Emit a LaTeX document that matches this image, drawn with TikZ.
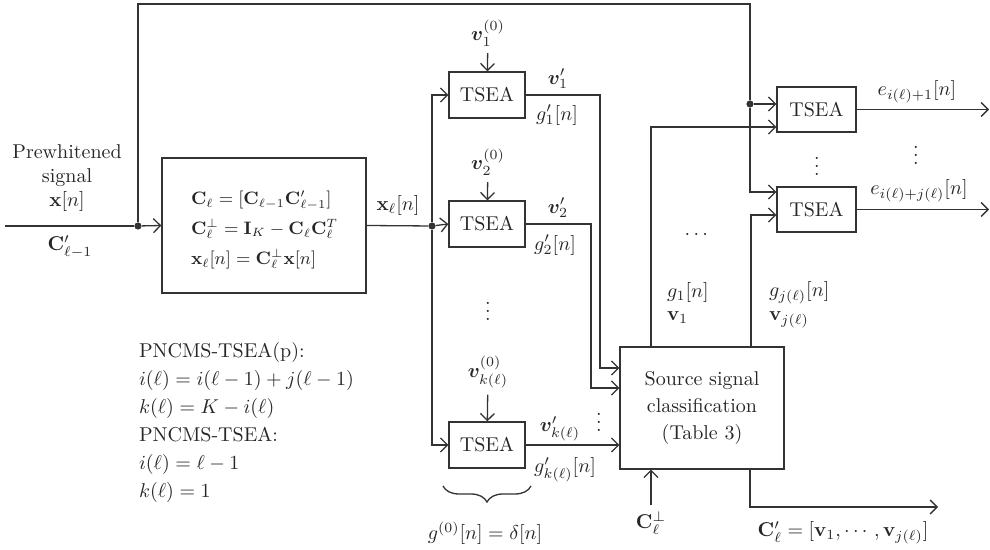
\documentclass[tikz,border=0pt]{standalone}
\usepackage{amsmath,bm}
\usetikzlibrary{arrows.meta,decorations.pathreplacing,calc}
\begin{document}
\begin{tikzpicture}[x=0.5pt,y=-0.5pt,
  every node/.style={text=black!85, font=\fontsize{10}{12}\selectfont},
  ln/.style={draw=black!80, line width=0.65pt},
  arr/.style={ln, -{Straight Barb[length=3.5pt,width=7pt]}},
  blk/.style={draw=black!80, line width=0.65pt, inner sep=0pt},
  tsea/.style={blk, minimum width=38pt, minimum height=23pt},
  vd/.style={inner sep=0pt},
  dot/.style={circle, fill=black!80, inner sep=0pt, minimum size=3.6pt}]
\useasboundingbox (0,0) rectangle (990,550);

% input side
\node[align=center] (pw) at (67,178) {Prewhitened\\signal\\$\mathbf{x}[n]$};
\node (cl1) at (70,247) {$\mathbf{C}'_{\ell-1}$};
\coordinate (in0) at (5,226);
\node[dot] (d1) at (138,226) {};
\coordinate (tl) at (138,4);
\coordinate (tr) at (750,4);

% projection block
\node[blk, minimum width=102pt, minimum height=67.5pt] (cb) at (264,225.5) {};
\node[align=left, anchor=west, font=\fontsize{9.2}{15}\selectfont] (cbt) at (184,230)
  {$\mathbf{C}_\ell = [\mathbf{C}_{\ell-1}\mathbf{C}'_{\ell-1}]$\\
   $\mathbf{C}_\ell^{\perp} = \mathbf{I}_K - \mathbf{C}_\ell\mathbf{C}_\ell^{T}$\\
   $\mathbf{x}_\ell[n] = \mathbf{C}_\ell^{\perp}\mathbf{x}[n]$};
\node (xl) at (398,206) {$\mathbf{x}_\ell[n]$};
\node[dot] (d3) at (432,226) {};

% TSEA column
\node[tsea] (T1) at (487,95) {TSEA};
\node[tsea] (T2) at (487,224) {TSEA};
\node[tsea] (Tk) at (487,445) {TSEA};
\node (v10) at (488,33) {$\bm{v}_1^{(0)}$};
\node (v20) at (488,162) {$\bm{v}_2^{(0)}$};
\node (vk0) at (488,372) {$\bm{v}_{k(\ell)}^{(0)}$};
\node[vd] (vd1) at (488,305) {$\vdots$};
\node (v1p) at (558,79) {$\bm{v}'_1$};
\node (g1p) at (557,115) {$g'_1[n]$};
\node (v2p) at (558,208) {$\bm{v}'_2$};
\node (g2p) at (555,245) {$g'_2[n]$};
\node (vkp) at (560,429) {$\bm{v}'_{k(\ell)}$};
\node (gkp) at (565,470) {$g'_{k(\ell)}[n]$};
\node[vd] (vd2) at (599,416) {$\vdots$};
\coordinate (br1) at (443,486);
\coordinate (br2) at (531,486);
\node (g0) at (485,533) {$g^{(0)}[n] = \delta[n]$};

% classification
\node[blk, minimum width=82pt, minimum height=61pt, align=center,
      font=\fontsize{10}{13.5}\selectfont] (S) at (702,408)
  {Source signal\\classification\\(Table 3)};
\node (cperp) at (651,523) {$\mathbf{C}_\ell^{\perp}$};
\node (clp) at (843,533) {$\mathbf{C}'_\ell = [\mathbf{v}_1,\cdots,\mathbf{v}_{j(\ell)}]$};
\node[anchor=west] (g1n) at (660,293) {$g_1[n]$};
\node[anchor=west] (vv1) at (660,318) {$\mathbf{v}_1$};
\node[anchor=west] (gjn) at (762,293) {$g_{j(\ell)}[n]$};
\node[anchor=west] (vvj) at (762,320) {$\mathbf{v}_{j(\ell)}$};
\node (hd) at (698,235) {$\cdots$};
\coordinate (c1) at (600,368);
\coordinate (c2) at (591,388);
\coordinate (g1c) at (651,127);
\coordinate (gjc) at (751,215);
\coordinate (oc) at (750,507);
\coordinate (oe) at (938,507);

% right TSEAs
\node[blk, minimum width=39.5pt, minimum height=22.5pt] (A) at (816.5,109.5) {TSEA};
\node[blk, minimum width=39.5pt, minimum height=22.5pt] (B) at (816.5,209.5) {TSEA};
\node[dot] (d2) at (750,104) {};
\coordinate (yb1) at (0,192);
\coordinate (rx) at (989,0);
\node[vd] (vd3) at (817,160) {$\vdots$};
\node (e1) at (917,92) {$e_{i(\ell)+1}[n]$};
\node (ej) at (919,191) {$e_{i(\ell)+j(\ell)}[n]$};
\node[vd] (vd4) at (916,149) {$\vdots$};

% text block
\node[align=left, anchor=north west, font=\fontsize{10}{14}\selectfont] (pn) at (132,335)
  {PNCMS-TSEA(p):\\
   $i(\ell) = i(\ell-1) + j(\ell-1)$\\
   $k(\ell) = K - i(\ell)$\\
   PNCMS-TSEA:\\
   $i(\ell) = \ell - 1$\\
   $k(\ell) = 1$};

% connectors
\draw[ln] (in0) -- (d1);
\draw[arr] (d1) -- (cb.west);
\draw[ln] (d1) -- (tl) -- (tr) -- (d2);
\draw[arr] (d2) -- (d2 -| A.west);
\draw[arr] (d2) |- (B.west |- yb1);
\draw[ln] (cb.east) -- (d3);
\draw[arr] (d3) -- (T2.west);
\draw[arr] (d3) |- (T1.west);
\draw[arr] (d3) |- (Tk.west);
\draw[arr] (v10) -- (T1);
\draw[arr] (v20) -- (T2);
\draw[arr] (vk0) -- (Tk);
\draw[arr] (T1.east) -| (c1) -- (S.west |- c1);
\draw[arr] (T2.east) -| (c2) -- (S.west |- c2);
\draw[arr] (Tk.east) -- (S.west |- Tk.east);
\draw[arr] (S.north -| g1c) -- (g1c) -- (A.west |- g1c);
\draw[arr] (S.north -| gjc) -- (gjc) -- (B.west |- gjc);
\draw[arr] (cperp) -- (cperp |- S.south);
\draw[arr] (S.south -| oc) -- (oc) -- (oe);
\draw[arr] (A.east) -- (A.east -| rx);
\draw[arr] (B.east) -- (B.east -| rx);
\draw[ln, decorate, decoration={brace, mirror, amplitude=8pt}] (br1) -- (br2);
\end{tikzpicture}
\end{document}
